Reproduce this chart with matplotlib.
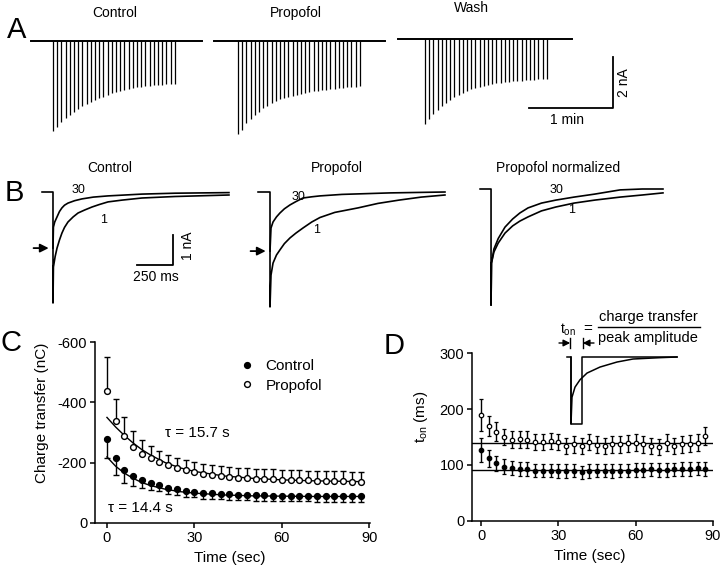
import numpy as np
import matplotlib
matplotlib.use("Agg")
import matplotlib.pyplot as plt
from matplotlib.lines import Line2D

plt.rcParams['font.family'] = ['Liberation Sans', 'DejaVu Sans']
plt.rcParams['axes.unicode_minus'] = False
plt.rcParams['mathtext.default'] = 'regular'

W, H = 720, 569

# stimulus times (s), one response every 3 s
pulse_t = [0, 3, 6, 9, 12, 15, 18, 21, 24, 27, 30, 33, 36, 39, 42,
           45, 48, 51, 54, 57, 60, 63, 66, 69, 72, 75, 78, 81, 84, 87]

# A: peak amplitudes (nA) of the 30 responses
amp_control = [3.53, 3.37, 3.18, 3.02, 2.90, 2.78, 2.67, 2.55, 2.47, 2.39,
               2.31, 2.24, 2.20, 2.12, 2.04, 2.00, 1.96, 1.92, 1.88, 1.84,
               1.80, 1.80, 1.76, 1.76, 1.73, 1.73, 1.73, 1.69, 1.69, 1.69]
amp_propofol = [3.65, 3.49, 3.22, 3.06, 2.90, 2.78, 2.63, 2.55, 2.43, 2.35,
                2.27, 2.24, 2.20, 2.16, 2.12, 2.08, 2.04, 2.00, 1.96, 1.96,
                1.92, 1.92, 1.88, 1.88, 1.84, 1.84, 1.80, 1.80, 1.80, 1.76]
amp_wash = [3.33, 3.14, 2.94, 2.78, 2.63, 2.51, 2.39, 2.27, 2.20, 2.12,
            2.04, 1.96, 1.92, 1.88, 1.84, 1.80, 1.76, 1.73, 1.73, 1.69,
            1.69, 1.65, 1.65, 1.65, 1.61, 1.61, 1.61, 1.57, 1.57, 1.57]

# B: responses 1 and 30, time (ms) and current (nA)
ctl1_t = [-76, 0, 0, 3, 15, 28, 45, 62, 80, 104, 140, 174, 220, 271, 320, 382, 480, 618, 847, 1222]
ctl1_i = [0, 0, -3.7, -2.5, -2.15, -1.87, -1.6, -1.37, -1.18, -1.0, -0.83, -0.7, -0.6, -0.5,
          -0.42, -0.33, -0.27, -0.2, -0.15, -0.1]
ctl30_t = [0, 3, 12, 28, 45, 62, 80, 104, 150, 201, 280, 382, 500, 618, 847, 1222]
ctl30_i = [-1.87, -1.17, -1.0, -0.83, -0.65, -0.53, -0.44, -0.37, -0.29, -0.23, -0.17, -0.13,
           -0.1, -0.07, -0.04, -0.02]
pro1_t = [-83, 0, 0, 7, 21, 45, 69, 100, 139, 180, 229, 290, 347, 450, 611, 750, 896, 1050, 1215]
pro1_i = [0, 0, -3.83, -2.77, -2.37, -2.1, -1.93, -1.72, -1.53, -1.37, -1.2, -1.0, -0.85,
          -0.68, -0.53, -0.38, -0.27, -0.17, -0.1]
pro30_t = [0, 7, 21, 45, 69, 100, 139, 180, 229, 290, 347, 500, 833, 1215]
pro30_i = [-1.97, -1.2, -1.0, -0.83, -0.7, -0.56, -0.43, -0.32, -0.2, -0.16, -0.13, -0.08,
           -0.03, 0.0]
nrm1_t = [-76, 0, 0, 3, 20, 50, 97, 150, 200, 257, 350, 450, 576, 720, 896, 1050, 1194]
nrm1_i = [0, 0, -3.87, -2.47, -2.1, -1.8, -1.47, -1.23, -1.07, -0.93, -0.73, -0.6, -0.47,
          -0.37, -0.27, -0.2, -0.13]
nrm30_t = [0, 3, 20, 50, 97, 150, 200, 257, 350, 450, 576, 720, 896, 1050, 1194]
nrm30_i = [-3.87, -2.47, -2.0, -1.65, -1.27, -1.0, -0.8, -0.63, -0.47, -0.37, -0.27, -0.17,
           -0.03, 0.0, 0.0]

# C: charge transfer (nC), mean and SEM
q_control = [-278, -215, -176, -156, -143, -133, -126, -116, -112, -106, -103, -99, -98, -96,
             -95, -94, -93, -92, -92, -91, -91, -90, -90, -90, -89, -89, -89, -88, -88, -88]
q_control_err = [63, 57, 43, 33, 27, 23, 21, 20, 19, 19, 18, 18, 18, 18, 18,
                 18, 18, 18, 18, 18, 18, 18, 18, 18, 18, 18, 18, 18, 18, 18]
q_propofol = [-437, -338, -288, -252, -229, -215, -202, -192, -182, -176, -169, -162, -159,
              -156, -152, -150, -148, -147, -146, -145, -144, -143, -142, -141, -140, -139,
              -138, -138, -137, -137]
q_propofol_err = [113, 73, 63, 53, 46, 40, 36, 34, 33, 33, 33, 33, 33, 33, 33,
                  33, 33, 33, 33, 33, 33, 33, 33, 33, 33, 33, 33, 33, 33, 33]
# exponential fits
fit_t = [0, 3, 6, 9, 12, 15, 20, 25, 30, 40, 50, 60, 70, 88]
fit_control = [-219, -188, -165, -148, -134, -124, -112, -104, -99, -93, -90, -89, -88, -88]
fit_propofol = [-350, -318, -290, -265, -243, -225, -200, -183, -171, -156, -148, -143, -140, -137]

# D: t_on (ms), mean and SEM
ton_control = [127, 112, 103, 97, 95, 93, 93, 90, 90, 90, 89, 89, 90, 87, 89,
               90, 90, 89, 90, 90, 91, 91, 92, 91, 91, 92, 93, 93, 94, 93]
ton_control_err = [21, 15, 13, 13, 12, 12, 12, 12, 12, 12, 12, 12, 12, 12, 12,
                   12, 12, 12, 12, 12, 12, 12, 12, 12, 12, 12, 12, 12, 12, 12]
ton_propofol = [189, 170, 159, 150, 145, 146, 145, 141, 141, 143, 141, 134, 137, 134, 141,
                136, 134, 137, 137, 139, 140, 137, 134, 132, 140, 134, 137, 138, 140, 151]
ton_propofol_err = [28, 18, 17, 15, 15, 15, 15, 15, 15, 15, 15, 15, 15, 15, 15,
                    15, 15, 15, 15, 15, 15, 15, 15, 15, 15, 15, 15, 15, 15, 16]
ton_mean_control = 91
ton_mean_propofol = 140

# D inset: schematic response (ms, normalized current)
sch_t = [-20, 0, 0, 5, 20, 45, 80, 145, 230, 310, 445, 530]
sch_i = [0, 0, -1.0, -0.6, -0.45, -0.34, -0.24, -0.15, -0.075, -0.03, -0.01, 0]
sch_ton = 55


def px_box(x0, y0, x1, y1):
    return [x0 / W, 1 - y1 / H, (x1 - x0) / W, (y1 - y0) / H]


fig = plt.figure(figsize=(7.2, 5.69), dpi=100)


def ftext(x, y, s, size=10, **kw):
    fig.text(x / W, 1 - y / H, s, ha='center', va='center', fontsize=size, **kw)


# ---------------- A ----------------
axA = fig.add_axes(px_box(0, 25, 720, 145))
axA.set_xlim(0, 720 / 1.4)
axA.set_ylim(-(145 - 41) / 25.5, (41 - 25) / 25.5)
axA.axis('off')
for start, first, end, base, amps in [(22.1, 37.9, 144.3, 0.0, amp_control),
                                      (152.9, 170.0, 275.0, 0.0, amp_propofol),
                                      (284.3, 303.6, 408.6, 0.08, amp_wash)]:
    axA.plot([start, end], [base, base], color='k', lw=1.4)
    axA.vlines(first + np.array(pulse_t), base - np.array(amps), base, color='k', lw=0.9)
axA.plot([378, 438, 438], [-2.63, -2.63, -0.63], color='k', lw=1.3)
ftext(567, 120, '1 min')
ftext(624, 83, '2 nA', rotation=90)
ftext(115, 13, 'Control')
ftext(296, 13, 'Propofol')
ftext(471, 8, 'Wash')
ftext(17, 30, 'A', size=21)

# ---------------- B ----------------
axB = fig.add_axes(px_box(0, 180, 720, 315))
axB.set_xlim(0, 720 / 0.144)
axB.set_ylim(-(315 - 192) / 30, (192 - 180) / 30)
axB.axis('off')
for t0, base, (t1, i1), (t30, i30), arrow in [
        (368, 0.0, (ctl1_t, ctl1_i), (ctl30_t, ctl30_i), True),
        (1875, 0.0, (pro1_t, pro1_i), (pro30_t, pro30_i), True),
        (3410, 0.1, (nrm1_t, nrm1_i), (nrm30_t, nrm30_i), False)]:
    axB.plot(t0 + np.array(t1), base + np.array(i1), color='k', lw=1.2)
    axB.plot(t0 + np.array(t30), base + np.array(i30), color='k', lw=1.2)
    if arrow:
        axB.annotate('', xy=(t0 - 30, base + i30[0]), xytext=(t0 - 135, base + i30[0]),
                     arrowprops=dict(arrowstyle='-|>,head_length=0.5,head_width=0.25',
                                     color='k', lw=1.3, shrinkA=0, shrinkB=0))
axB.plot([951, 1201, 1201], [-2.43, -2.43, -1.43], color='k', lw=1.3)
ftext(188, 246, '1 nA', rotation=90)
ftext(156, 277, '250 ms')
ftext(110, 168, 'Control')
ftext(337, 168, 'Propofol')
ftext(558, 168, 'Propofol normalized')
for x, y, s in [(79, 190, '30'), (104, 220, '1'), (298, 197, '30'), (317, 230, '1'),
                (556, 190, '30'), (572, 210, '1')]:
    ftext(x, y, s, size=9)
ftext(14, 193, 'B', size=21)


def style_axes(ax):
    for side in ['top', 'right']:
        ax.spines[side].set_visible(False)
    for side in ['left', 'bottom']:
        ax.spines[side].set_linewidth(1.1)
    ax.tick_params(length=3.5, width=1.1, labelsize=10.5, pad=2)


# ---------------- C ----------------
axC = fig.add_axes(px_box(95, 342, 370, 523))
style_axes(axC)
axC.set_xlim(-4.1, 90.2)
axC.set_ylim(0, -600)
axC.set_xticks([0, 30, 60, 90])
axC.set_yticks([-600, -400, -200, 0])
axC.plot(fit_t, fit_propofol, color='k', lw=1, zorder=2)
axC.plot(fit_t, fit_control, color='k', lw=1, zorder=2)
zeros = np.zeros(len(pulse_t))
axC.errorbar(pulse_t, q_propofol, yerr=[q_propofol_err, zeros], fmt='o', ms=4.2,
             mfc='white', mec='k', mew=1, ecolor='k', elinewidth=1, capsize=2,
             capthick=1, zorder=3)
axC.errorbar(pulse_t, q_control, yerr=[zeros, q_control_err], fmt='o', ms=4.2,
             mfc='k', mec='k', mew=1, ecolor='k', elinewidth=1, capsize=2,
             capthick=1, zorder=3)
axC.set_ylabel('Charge transfer (nC)', fontsize=11)
axC.yaxis.set_label_coords(-0.167, 0.61)
axC.set_xlabel('Time (sec)', fontsize=11)
axC.xaxis.set_label_coords(0.491, -0.155)
handles = [Line2D([], [], ls='', marker='o', ms=4.2, mfc='k', mec='k'),
           Line2D([], [], ls='', marker='o', ms=4.2, mfc='white', mec='k')]
axC.legend(handles, ['Control', 'Propofol'], loc='center left',
           bbox_to_anchor=((241 - 95) / 275, (523 - 376) / 181), frameon=False,
           fontsize=11, handlelength=0.8, handletextpad=0.8, borderpad=0,
           borderaxespad=0, labelspacing=0.35)
axC.text(19.9, -298, 'τ = 15.7 s', fontsize=11, va='center')
axC.text(0.3, -50, 'τ = 14.4 s', fontsize=11, va='center')
ftext(11, 343, 'C', size=21)

# ---------------- D ----------------
axD = fig.add_axes(px_box(472, 353, 713, 521))
style_axes(axD)
axD.set_xlim(-3.5, 90)
axD.set_ylim(0, 300)
axD.set_xticks([0, 30, 60, 90])
axD.set_yticks([0, 100, 200, 300])
axD.axhline(ton_mean_propofol, color='k', lw=1, zorder=2)
axD.axhline(ton_mean_control, color='k', lw=1, zorder=2)
axD.errorbar(pulse_t, ton_propofol, yerr=ton_propofol_err, fmt='o', ms=3.2,
             mfc='white', mec='k', mew=0.9, ecolor='k', elinewidth=1, capsize=1.6,
             capthick=1, zorder=3)
axD.errorbar(pulse_t, ton_control, yerr=ton_control_err, fmt='o', ms=3.2,
             mfc='k', mec='k', mew=0.9, ecolor='k', elinewidth=1, capsize=1.6,
             capthick=1, zorder=3)
axD.set_ylabel(r'$\mathregular{t_{on}}$ (ms)', fontsize=11)
axD.yaxis.set_label_coords(-0.174, 0.619)
axD.set_xlabel('Time (sec)', fontsize=11)
axD.xaxis.set_label_coords(0.49, -0.167)
ftext(394, 346, 'D', size=21)

# inset schematic
axI = fig.add_axes(px_box(555, 310, 705, 430))
axI.set_xlim((555 - 571) * 5, (705 - 571) * 5)
axI.set_ylim(-(430 - 357) / 67, (357 - 310) / 67)
axI.axis('off')
axI.plot(sch_t, sch_i, color='k', lw=1.1)
axI.plot([0, 0, sch_ton, sch_ton, sch_t[-1]], [0, -1, -1, 0, 0], color='k', lw=1.1)
ya = (357 - 343) / 67
axI.annotate('', xy=(-4, ya), xytext=(-60, ya),
             arrowprops=dict(arrowstyle='-|>,head_length=0.4,head_width=0.2',
                             color='k', lw=1, shrinkA=0, shrinkB=0))
axI.annotate('', xy=(sch_ton + 4, ya), xytext=(sch_ton + 60, ya),
             arrowprops=dict(arrowstyle='-|>,head_length=0.4,head_width=0.2',
                             color='k', lw=1, shrinkA=0, shrinkB=0))
axI.plot([-4, -4], [ya - 0.08, ya + 0.08], color='k', lw=1)
axI.plot([sch_ton + 4, sch_ton + 4], [ya - 0.08, ya + 0.08], color='k', lw=1)
axI.text(-15, 0.40, r'$\mathregular{t_{on}}$', fontsize=10, ha='center', va='center')
axI.text(85, 0.42, '=', fontsize=11, ha='center', va='center')
axI.plot([135, 645], [0.45, 0.45], color='k', lw=1)
axI.text(385, 0.60, 'charge transfer', fontsize=10.5, ha='center', va='center')
axI.text(385, 0.29, 'peak amplitude', fontsize=10.5, ha='center', va='center')

fig.savefig('out.png', dpi=100)
